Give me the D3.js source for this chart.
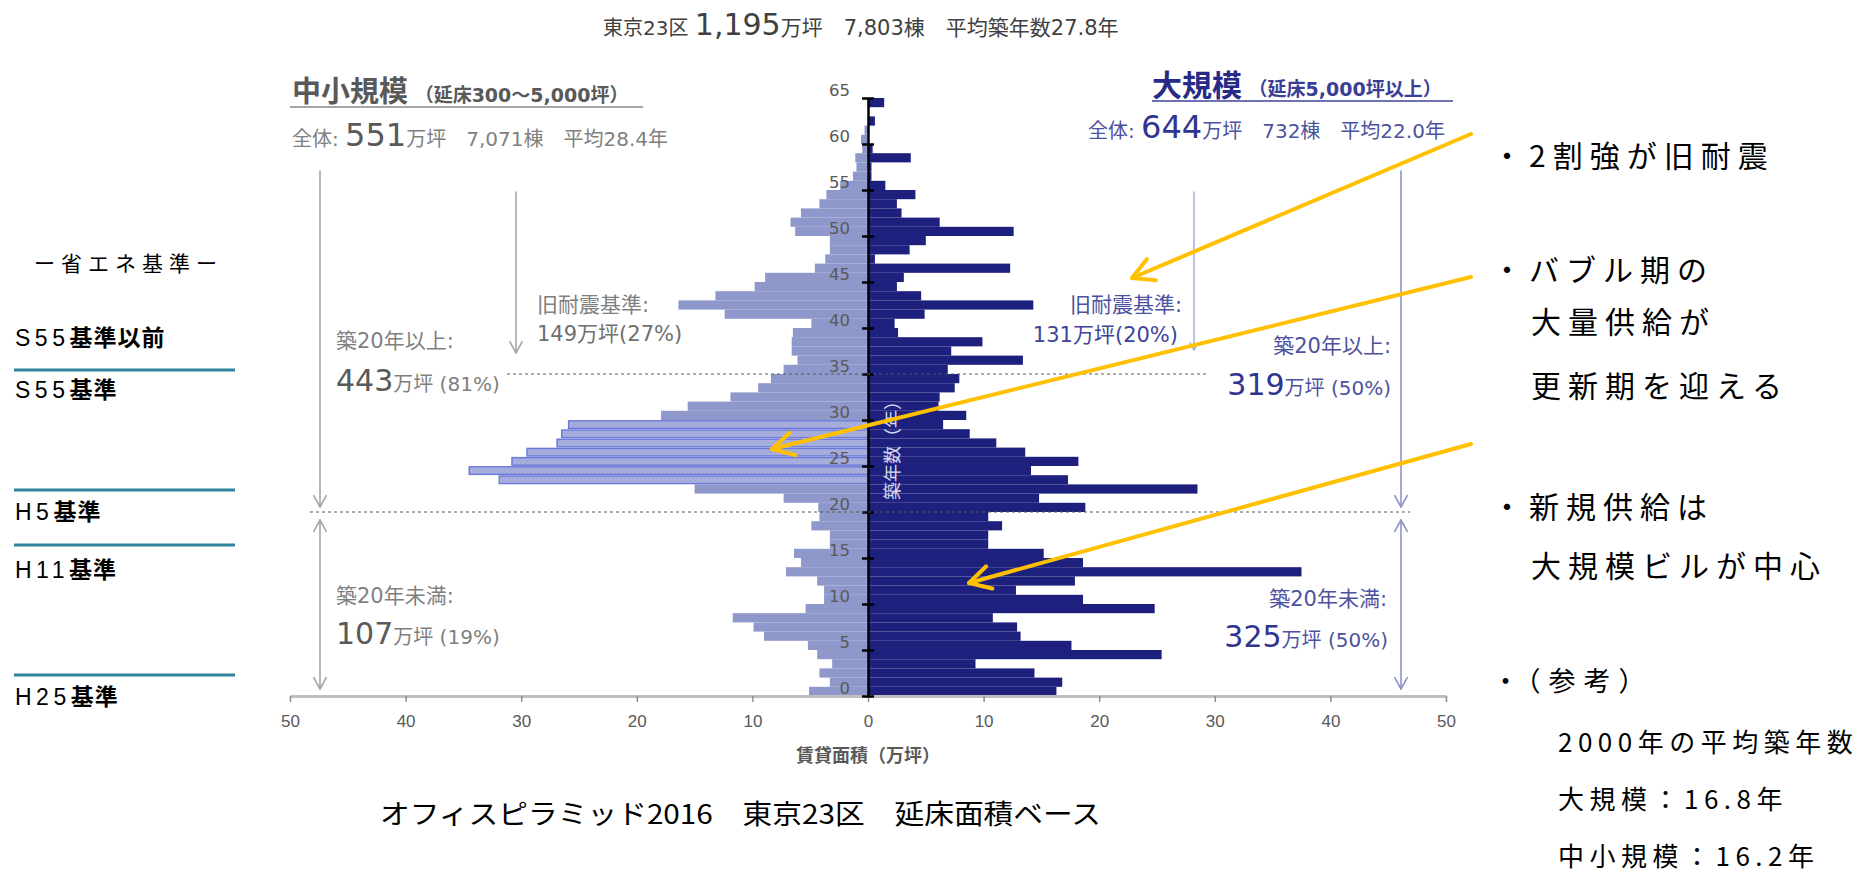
<!DOCTYPE html>
<html>
<head>
<meta charset="utf-8">
<script src="https://cdn.jsdelivr.net/npm/d3@7"></script>
<style>
  body { margin: 0; background: #fff; }
  svg { display: block; }
</style>
</head>
<body>
<svg id="chart" width="1872" height="874"></svg>
<script>
// 築年数（年）: one bar per year of age
const ages = [0,1,2,3,4,5,6,7,8,9,10,11,12,13,14,15,16,17,18,19,20,21,22,23,24,25,26,27,28,29,
  30,31,32,33,34,35,36,37,38,39,40,41,42,43,44,45,46,47,48,49,50,51,52,53,54,55,56,57,58,59,60,61,62,63,64];

// 中小規模（延床300～5,000坪）賃貸面積（万坪） by age
const smallMidArea = [5.1,3.3,4.2,3.1,4.4,5.2,9.0,9.9,11.7,5.4,3.8,3.8,4.4,7.1,5.8,6.4,3.3,3.3,4.9,4.2,
  4.3,7.3,15.0,31.9,34.5,30.8,29.5,26.9,26.5,25.9,17.9,15.6,11.9,9.5,8.4,7.3,6.1,6.6,6.6,6.5,
  4.9,12.4,16.4,13.2,9.8,8.9,4.6,3.7,3.3,3.3,6.3,6.7,5.8,4.2,3.6,2.4,1.3,1.0,1.1,0.5,0.6,0.3,0,0,0];

// 大規模（延床5,000坪以上）賃貸面積（万坪） by age
const largeArea = [16.3,16.8,14.4,9.3,25.4,17.6,13.2,12.9,10.8,24.8,18.6,12.8,17.9,37.5,18.6,15.2,10.4,10.4,11.6,10.4,
  18.8,14.8,28.5,17.3,14.1,18.2,13.6,11.1,8.8,6.5,8.5,6.1,6.2,7.5,7.9,6.9,13.4,7.2,9.9,2.6,
  2.3,4.9,14.3,4.6,2.5,3.1,12.3,0.6,3.6,5.0,12.6,6.2,2.9,2.5,4.1,1.5,0.3,0.3,3.7,0.4,0,0,0.6,0,1.4];

// バブル期竣工（highlighted）
const bubbleAges = [23,24,25,26,27,28,29];

const ageTicks = [0,5,10,15,20,25,30,35,40,45,50,55,60,65];
const areaTicks = [-50,-40,-30,-20,-10,0,10,20,30,40,50];

const JP = '"Noto Sans CJK JP","Noto Sans",sans-serif';
const CHART = '"DejaVu Sans","Noto Sans CJK JP",sans-serif';
const svg = d3.select('#chart').attr('font-family', CHART);

const cx = 868;
const xLeft = d3.scaleLinear().domain([0, 50]).range([cx, 290]);
const xRight = d3.scaleLinear().domain([0, 50]).range([cx, 1446]);
const xAxisScale = d3.scaleLinear().domain([-50, 50]).range([290, 1446]);
const y = d3.scaleLinear().domain([0, 65]).range([696, 98]);

// hatch used for the bubble-era bars
const defs = svg.append('defs');
const pat = defs.append('pattern').attr('id', 'hatch').attr('patternUnits', 'userSpaceOnUse')
  .attr('width', 4).attr('height', 4);
pat.append('rect').attr('width', 4).attr('height', 4).attr('fill', '#a9b0de');
pat.append('path').attr('d', 'M0,4L4,0').attr('stroke', '#9aa2d6').attr('stroke-width', 1);

// ---- bars ----
const gBars = svg.append('g');
gBars.selectAll('rect.small').data(ages).join('rect')
  .attr('class', 'small')
  .attr('x', a => xLeft(smallMidArea[a]))
  .attr('y', a => y(a + 1) + (bubbleAges.includes(a) ? 0.8 : 0))
  .attr('width', a => cx - xLeft(smallMidArea[a]))
  .attr('height', a => y(a) - y(a + 1) - (bubbleAges.includes(a) ? 1.6 : 0))
  .attr('fill', a => bubbleAges.includes(a) ? 'url(#hatch)' : '#8e98cb')
  .attr('stroke', a => bubbleAges.includes(a) ? '#6b79d9' : 'none')
  .attr('stroke-width', 1.4);

gBars.selectAll('rect.large').data(ages).join('rect')
  .attr('class', 'large')
  .attr('x', cx)
  .attr('y', a => y(a + 1))
  .attr('width', a => xRight(largeArea[a]) - cx)
  .attr('height', a => y(a) - y(a + 1))
  .attr('fill', '#1e207e');

// ---- axes ----
const gx = svg.append('g').attr('transform', 'translate(0,696)')
  .call(d3.axisBottom(xAxisScale).tickValues(areaTicks).tickFormat(d => Math.abs(d))
    .tickSize(6).tickSizeOuter(0).tickPadding(13));
gx.select('.domain').attr('stroke', '#bfbfbf').attr('stroke-width', 3);
gx.selectAll('.tick line').attr('stroke', '#8c8c8c').attr('stroke-width', 1.5);
gx.selectAll('.tick text').attr('fill', '#595959').attr('font-size', 17)
  .attr('font-family', '"Liberation Sans",Arial,sans-serif');

const gy = svg.append('g').attr('transform', `translate(${cx},0)`)
  .call(d3.axisLeft(y).tickValues(ageTicks).tickSize(6).tickSizeOuter(0).tickPadding(12));
gy.select('.domain').attr('stroke', '#000').attr('stroke-width', 2.5);
gy.selectAll('.tick line').attr('x1', 6).attr('x2', -6).attr('stroke', '#000').attr('stroke-width', 2.5);
gy.selectAll('.tick text').attr('fill', '#595959').attr('font-size', 16.5).attr('y', -7.5)
  .attr('font-family', '"DejaVu Sans",Verdana,sans-serif');

svg.append('text').attr('x', cx).attr('y', 762).attr('text-anchor', 'middle')
  .attr('font-size', 18).attr('font-weight', 'bold').attr('fill', '#595959')
  .attr('font-family', JP)
  .text('賃貸面積（万坪）');

svg.append('text').attr('transform', 'translate(899,446) rotate(-90)')
  .attr('text-anchor', 'middle').attr('font-size', 18).attr('fill', '#d6d9f0')
  .attr('font-family', JP)
  .text('築年数（年）');

// ---- rich text helper ----
function rich(x, yy, parts, anchor) {
  const t = svg.append('text').attr('x', x).attr('y', yy).attr('text-anchor', anchor || 'start');
  parts.forEach(p => {
    t.append('tspan').text(p[0]).attr('font-size', p[1]).attr('fill', p[2])
      .attr('font-weight', p[3] || 'normal');
  });
  return t;
}

// title
rich(603, 35, [['東京23区 ', 20, '#404040'], ['1,195', 30, '#404040'], ['万坪', 21, '#404040'],
  ['　7,803棟　平均築年数27.8年', 21, '#404040']]);

// left header
rich(292, 102, [['中小規模', 29, '#595959', 'bold'], [' （延床300～5,000坪）', 19, '#595959', 'bold']]);
svg.append('line').attr('x1', 290).attr('x2', 643).attr('y1', 107).attr('y2', 107)
  .attr('stroke', '#a6a6a6').attr('stroke-width', 2);
rich(292, 146, [['全体: ', 20, '#808080'], ['551', 32, '#595959'], ['万坪', 20, '#808080'],
  ['　7,071棟　平均28.4年', 20, '#808080']]);

// right header
rich(1152, 96, [['大規模', 30, '#262b85', 'bold'], [' （延床5,000坪以上）', 19, '#3a3f95', 'bold']]);
svg.append('line').attr('x1', 1152).attr('x2', 1453).attr('y1', 101).attr('y2', 101)
  .attr('stroke', '#6c72b4').attr('stroke-width', 2);
rich(1088, 138, [['全体: ', 20, '#4d52a0'], ['644', 32, '#2f358e'], ['万坪', 20, '#4d52a0'],
  ['　732棟　平均22.0年', 20, '#4d52a0']]);

// ---- reference lines ----
svg.append('line').attr('x1', 507).attr('x2', 1207).attr('y1', y(35)).attr('y2', y(35))
  .attr('stroke', '#595959').attr('stroke-dasharray', '3,3').attr('stroke-width', 1);
svg.append('line').attr('x1', 310).attr('x2', 1410).attr('y1', y(20)).attr('y2', y(20))
  .attr('stroke', '#595959').attr('stroke-dasharray', '3,3').attr('stroke-width', 1);

// ---- arrows ----
function arrow(x1, y1, x2, y2, color, width, head, both) {
  const g = svg.append('g').attr('stroke', color).attr('stroke-width', width)
    .attr('fill', 'none').attr('stroke-linecap', 'round');
  g.append('line').attr('x1', x1).attr('y1', y1).attr('x2', x2).attr('y2', y2);
  const drawHead = (tx, ty, fx, fy) => {
    const ang = Math.atan2(ty - fy, tx - fx);
    const a1 = ang + Math.PI - 0.5, a2 = ang + Math.PI + 0.5;
    g.append('path').attr('d',
      `M${tx + head * Math.cos(a1)},${ty + head * Math.sin(a1)}L${tx},${ty}L${tx + head * Math.cos(a2)},${ty + head * Math.sin(a2)}`)
      .attr('stroke-linejoin', 'round');
  };
  drawHead(x2, y2, x1, y1);
  if (both) drawHead(x1, y1, x2, y2);
}

arrow(320, 171, 320, 507, '#a6a6a6', 1.6, 13, false);
arrow(320, 520, 320, 689, '#a6a6a6', 1.6, 13, true);
arrow(516, 192, 516, 353, '#a6a6a6', 1.6, 13, false);
arrow(1401, 171, 1401, 507, '#8e94c8', 1.6, 13, false);
arrow(1401, 520, 1401, 689, '#8e94c8', 1.6, 13, true);
arrow(1194, 192, 1194, 350, '#a2a7d2', 1.4, 8, false);

// ---- annotations ----
rich(336, 348, [['築20年以上:', 21, '#7f7f7f']]);
rich(336, 391, [['443', 30, '#595959'], ['万坪', 20, '#7f7f7f'], [' (81%)', 20, '#7f7f7f']]);
rich(336, 603, [['築20年未満:', 21, '#7f7f7f']]);
rich(336, 644, [['107', 30, '#595959'], ['万坪', 20, '#7f7f7f'], [' (19%)', 20, '#7f7f7f']]);
rich(537, 312, [['旧耐震基準:', 21, '#7f7f7f']]);
rich(537, 341, [['149', 21, '#6f6f6f'], ['万坪', 21, '#6f6f6f'], ['(27%)', 21, '#6f6f6f']]);

rich(1182, 312, [['旧耐震基準:', 21, '#4d52a0']], 'end');
rich(1178, 342, [['131', 21, '#3f449a'], ['万坪', 21, '#3f449a'], ['(20%)', 21, '#3f449a']], 'end');
rich(1391, 353, [['築20年以上:', 21, '#4d52a0']], 'end');
rich(1391, 395, [['319', 30, '#2f358e'], ['万坪', 20, '#4d52a0'], [' (50%)', 20, '#4d52a0']], 'end');
rich(1387, 606, [['築20年未満:', 21, '#4d52a0']], 'end');
rich(1388, 647, [['325', 30, '#2f358e'], ['万坪', 20, '#4d52a0'], [' (50%)', 20, '#4d52a0']], 'end');

// caption
svg.append('text').attr('x', 380).attr('y', 824).attr('font-size', 27).attr('fill', '#000')
  .attr('font-family', JP)
  .attr('textLength', 721).attr('lengthAdjust', 'spacingAndGlyphs')
  .text('オフィスピラミッド2016　東京23区　延床面積ベース');

// ---- 省エネ基準 legend on the left ----
const gLeft = svg.append('g').attr('fill', '#000')
  .attr('font-family', '"Liberation Sans","Noto Sans CJK JP",sans-serif');
gLeft.append('text').attr('x', 34).attr('y', 271).attr('letter-spacing', 6).attr('font-size', 21)
  .attr('font-family', JP).text('ー省エネ基準ー');
const stdRows = [['S55', '基準以前', 346], ['S55', '基準', 398], ['H5', '基準', 520], ['H11', '基準', 578], ['H25', '基準', 705]];
stdRows.forEach(r => {
  const t = gLeft.append('text').attr('x', 15).attr('y', r[2]).attr('font-size', 23);
  t.append('tspan').text(r[0]).attr('letter-spacing', 4.5);
  t.append('tspan').text(r[1]).attr('font-weight', 'bold').attr('font-family', JP).attr('letter-spacing', 1);
});
[370, 490, 545, 675].forEach(v => {
  gLeft.append('line').attr('x1', 14).attr('x2', 235).attr('y1', v).attr('y2', v)
    .attr('stroke', '#31849b').attr('stroke-width', 3);
});

// ---- bullet notes on the right ----
const notes = [
  ['・2割強が旧耐震', 1492, 167, 30, 7],
  ['・バブル期の', 1492, 281, 30, 7],
  ['大量供給が', 1531, 333, 30, 7],
  ['更新期を迎える', 1531, 397, 30, 7],
  ['・新規供給は', 1492, 518, 30, 7],
  ['大規模ビルが中心', 1531, 577, 30, 7],
  ['・（参考）', 1492, 691, 27, 8],
  ['2000年の平均築年数', 1558, 752, 26, 5.5],
  ['大規模：16.8年', 1558, 809, 26, 5.5],
  ['中小規模：16.2年', 1558, 866, 26, 5.5]
];
svg.append('g').attr('font-family', JP).selectAll('text').data(notes).join('text')
  .attr('x', d => d[1]).attr('y', d => d[2]).attr('font-size', d => d[3])
  .attr('letter-spacing', d => d[4]).attr('fill', '#000')
  .text(d => d[0]);

// ---- yellow callout arrows ----
arrow(1471, 134, 1132, 278, '#ffc000', 4, 24, false);
arrow(1471, 277, 772, 449, '#ffc000', 4, 24, false);
arrow(1471, 444, 969, 583, '#ffc000', 4, 24, false);
</script>
</body>
</html>
